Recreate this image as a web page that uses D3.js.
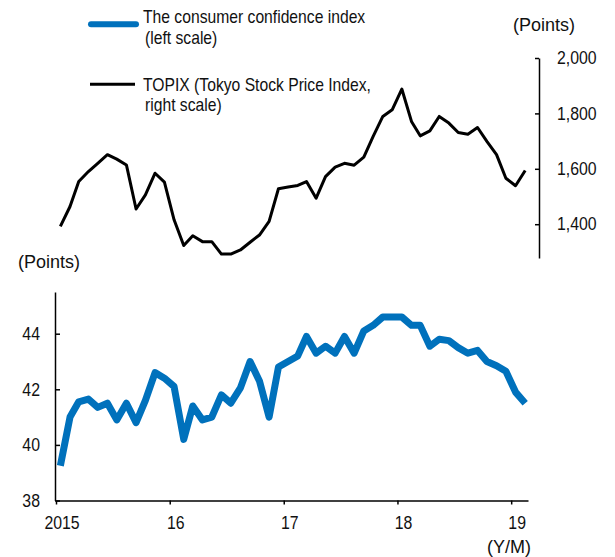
<!DOCTYPE html>
<html>
<head>
<meta charset="utf-8">
<script src="https://cdn.jsdelivr.net/npm/d3@7"></script>
<style>
  body { margin: 0; background: #fff; }
  svg text { font-family: "Liberation Sans Narrow", "Arial Narrow", "Liberation Sans", Arial, sans-serif; fill: #111; }
</style>
</head>
<body>
<svg id="chart" width="615" height="557"></svg>
<script>
// monthly, Jan 2015 - Feb 2019
const confidence = [
    39.25, 41.0, 41.55, 41.65, 41.35, 41.5, 40.9, 41.5, 40.8, 41.6, 42.6, 42.4,
    42.1, 40.2, 41.4, 40.9, 41.0, 41.8, 41.5, 42.05, 43.0, 42.3, 41.0, 42.8,
    43.0, 43.2, 43.9, 43.3, 43.55, 43.3, 43.9, 43.3, 44.1, 44.3, 44.6, 44.6,
    44.6, 44.3, 44.3, 43.55, 43.8, 43.75, 43.5, 43.3, 43.4, 43.0, 42.85, 42.65,
    41.9, 41.5
];
const topix = [
    1392, 1464, 1554, 1590, 1620, 1651, 1635, 1614, 1455, 1506, 1584, 1552,
    1416, 1323, 1358, 1337, 1337, 1292, 1292, 1307, 1335, 1361, 1410, 1528,
    1534, 1540, 1554, 1494, 1572, 1606, 1620, 1613, 1642, 1717, 1789, 1813,
    1888, 1771, 1719, 1737, 1789, 1765, 1731, 1725, 1749, 1699, 1651, 1566,
    1539, 1594
];
const yearTicks = [2015, 2016, 2017, 2018, 2019];
const confTicks = [38, 40, 42, 44];
const topixTicks = [1400, 1600, 1800, 2000];

const months = confidence.map((d, i) => new Date(2015, i, 15));

const svg = d3.select('#chart');
const blue = '#0071bc';

// the reference uses a narrow font; squeeze the fallback to match
function squeeze(sel, f) {
    sel.each(function() {
        const w = this.getComputedTextLength();
        d3.select(this).attr('textLength', w * f).attr('lengthAdjust', 'spacingAndGlyphs');
    });
}

const x = d3.scaleTime()
    .domain([new Date(2015, 0, 1), new Date(2019, 1, 24)])
    .range([56, 528]);

const yConf = d3.scaleLinear().domain([38, 45.5]).range([500.5, 292]);
const yTopix = d3.scaleLinear().domain([1278, 2000]).range([258, 58]);

// bottom x axis
const xAxis = svg.append('g')
    .attr('transform', 'translate(0,500.5)')
    .call(d3.axisBottom(x)
        .tickValues(yearTicks.map(y => new Date(y, 0, 1)))
        .tickFormat(d => d.getFullYear() === 2015 ? '2015' : d3.timeFormat('%y')(d))
        .tickSize(4)
        .tickSizeOuter(0));
xAxis.selectAll('text')
    .attr('x', 5.5)
    .attr('y', 0)
    .attr('dy', 28)
    .style('font-size', '18px');

// left axis (consumer confidence)
const leftAxis = svg.append('g')
    .attr('transform', 'translate(55,0)')
    .call(d3.axisLeft(yConf).tickValues(confTicks).tickSize(-5).tickSizeOuter(0).tickPadding(15));
leftAxis.selectAll('text').style('font-size', '18px');

// right axis (TOPIX)
const rightAxis = svg.append('g')
    .attr('transform', 'translate(539,0)')
    .call(d3.axisRight(yTopix).tickValues(topixTicks).tickSize(-4).tickSizeOuter(0).tickPadding(18)
        .tickFormat(d3.format(',')));
rightAxis.selectAll('text').style('font-size', '18px');

svg.selectAll('.domain, .tick line').attr('stroke', '#000').attr('stroke-width', 1.5);
squeeze(svg.selectAll('.tick text'), 0.88);

// lines
svg.append('path')
    .datum(topix)
    .attr('fill', 'none')
    .attr('stroke', '#000')
    .attr('stroke-width', 3)
    .attr('stroke-linejoin', 'round')
    .attr('d', d3.line().x((d, i) => x(months[i])).y(d => yTopix(d)));

svg.append('path')
    .datum(confidence)
    .attr('fill', 'none')
    .attr('stroke', blue)
    .attr('stroke-width', 7)
    .attr('stroke-linejoin', 'round')
    .attr('d', d3.line().x((d, i) => x(months[i])).y(d => yConf(d)));

// unit labels
svg.append('text').attr('x', 18).attr('y', 268).style('font-size', '18px').text('(Points)');
svg.append('text').attr('x', 513).attr('y', 31).style('font-size', '18px').text('(Points)');
svg.append('text').attr('x', 531).attr('y', 553).attr('text-anchor', 'end').style('font-size', '18px').text('(Y/M)');

// legend
const legend = svg.append('g');
legend.append('line')
    .attr('x1', 91).attr('x2', 136).attr('y1', 24.3).attr('y2', 24.3)
    .attr('stroke', blue).attr('stroke-width', 6).attr('stroke-linecap', 'round');
legend.append('line')
    .attr('x1', 90).attr('x2', 135).attr('y1', 84.3).attr('y2', 84.3)
    .attr('stroke', '#000').attr('stroke-width', 3);

const legendText = [
    { text: 'The consumer confidence index', x: 143, y: 23 },
    { text: '(left scale)', x: 145, y: 44 },
    { text: 'TOPIX (Tokyo Stock Price Index,', x: 143, y: 91 },
    { text: 'right scale)', x: 145, y: 111 }
];
const legendLabels = legend.selectAll('text.leg')
    .data(legendText)
    .enter()
    .append('text')
    .attr('class', 'leg')
    .attr('x', d => d.x)
    .attr('y', d => d.y)
    .style('font-size', '19px')
    .text(d => d.text);
squeeze(legendLabels, 0.825);
</script>
</body>
</html>
